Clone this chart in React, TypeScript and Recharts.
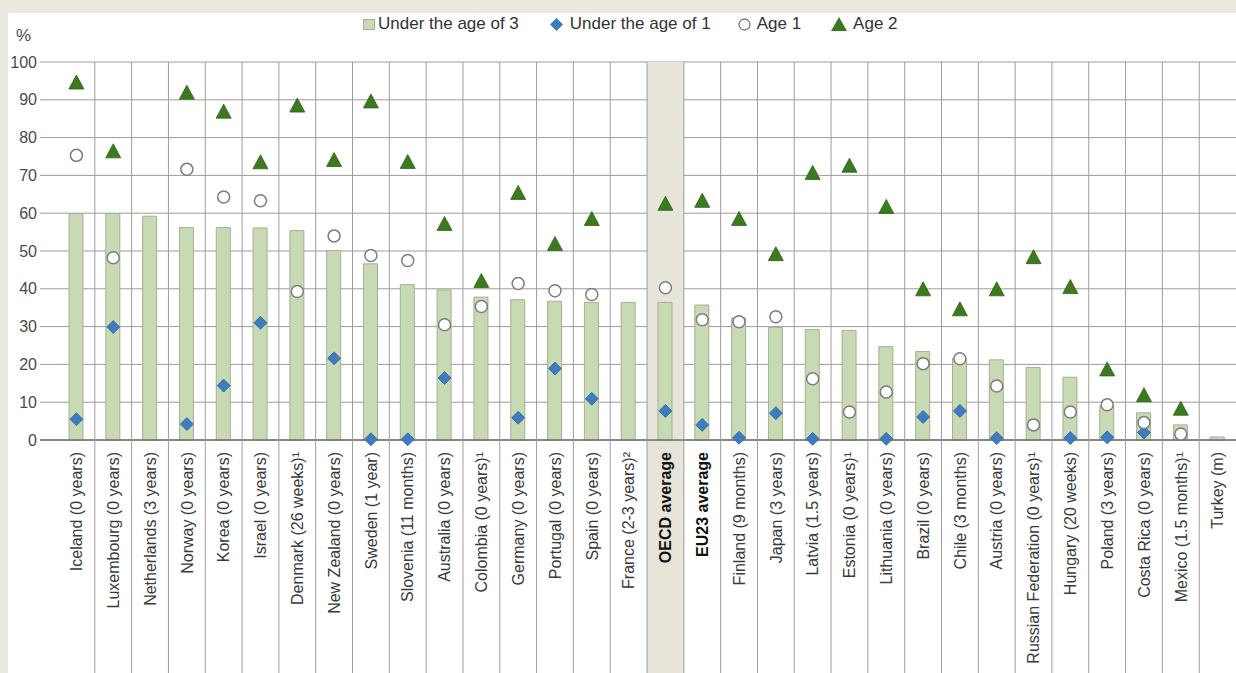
import React from "react";
import { Bar, CartesianGrid, ComposedChart, ReferenceArea, Scatter, XAxis, YAxis } from "recharts";

const categories = [
  "Iceland (0 years)",
  "Luxembourg (0 years)",
  "Netherlands (3 years)",
  "Norway (0 years)",
  "Korea (0 years)",
  "Israel (0 years)",
  "Denmark (26 weeks)¹",
  "New Zealand (0 years)",
  "Sweden (1 year)",
  "Slovenia (11 months)",
  "Australia (0 years)",
  "Colombia (0 years)¹",
  "Germany (0 years)",
  "Portugal (0 years)",
  "Spain (0 years)",
  "France (2-3 years)²",
  "OECD average",
  "EU23 average",
  "Finland (9 months)",
  "Japan (3 years)",
  "Latvia (1.5  years)",
  "Estonia (0 years)¹",
  "Lithuania (0 years)",
  "Brazil (0 years)",
  "Chile (3 months)",
  "Austria (0 years)",
  "Russian Federation (0 years)¹",
  "Hungary (20 weeks)",
  "Poland (3 years)",
  "Costa Rica (0 years)",
  "Mexico (1.5 months)¹",
  "Turkey (m)",
];

// % of children enrolled in ECEC
const under3 = [59.9, 59.9, 59.2, 56.2, 56.2, 56.1, 55.4, 50.1, 46.6, 41.1, 39.7, 37.8, 37.1, 36.7, 36.4, 36.4,
  36.4, 35.7, 32.3, 29.8, 29.2, 29.0, 24.7, 23.4, 21.6, 21.2, 19.2, 16.6, 9.0, 7.2, 4.0, 0.8];
const under1 = [5.5, 29.9, null, 4.2, 14.4, 31.0, null, 21.6, 0.2, 0.2, 16.4, null, 5.9, 18.9, 10.9, null,
  7.7, 4.0, 0.6, 7.1, 0.3, null, 0.3, 6.1, 7.7, 0.5, null, 0.5, 0.7, 2.0, null, null];
const age1 = [75.3, 48.2, null, 71.6, 64.3, 63.3, 39.3, 54.0, 48.8, 47.5, 30.5, 35.3, 41.4, 39.5, 38.5, null,
  40.3, 31.8, 31.3, 32.6, 16.2, 7.4, 12.7, 20.2, 21.5, 14.3, 4.0, 7.4, 9.3, 4.6, 1.6, null];
const age2 = [94.7, 76.5, null, 92.0, 87.0, 73.6, 88.6, 74.2, 89.7, 73.7, 57.3, 42.2, 65.5, 52.0, 58.6, null,
  62.6, 63.4, 58.6, 49.3, 70.8, 72.7, 61.8, 40.0, 34.7, 40.0, 48.5, 40.6, 18.8, 12.0, 8.4, null];

const yTicks = [0, 10, 20, 30, 40, 50, 60, 70, 80, 90, 100];
const boldCats = ["OECD average", "EU23 average"];
const highlightCat = "OECD average";

const data = categories.map((name, i) => ({
  name,
  under3: under3[i],
  under1: under1[i],
  age1: age1[i],
  age2: age2[i],
}));

const W = 1236;
const H = 673;
const PLOT_TOP = 62;
const PLOT_LEFT = 40;
const AXIS_H = 233;
const PAD_LEFT = 18;
const STEP = (W - PLOT_LEFT - PAD_LEFT) / categories.length;

const FONT = '"Liberation Sans", Arial, sans-serif';
const FRAME = "#ebe9df";
const HIGHLIGHT = "#e7e4d9";
const GRID = "#9c9c9c";
const BAR_FILL = "#c8dab4";
const BAR_EDGE = "#a1b193";
const BLUE = "#3f7cbf";
const GREEN = "#3b7a1f";

const hidden = (p: any, key: string) => p?.payload?.[key] == null || !Number.isFinite(p.cx) || !Number.isFinite(p.cy);

const DiamondShape = (p: any) =>
  hidden(p, "under1") ? <g /> : (
    <polygon
      points={`${p.cx},${p.cy - 6.5} ${p.cx + 6.5},${p.cy} ${p.cx},${p.cy + 6.5} ${p.cx - 6.5},${p.cy}`}
      fill={BLUE}
      stroke="#2f64a3"
      strokeWidth={0.8}
    />
  );

const CircleShape = (p: any) =>
  hidden(p, "age1") ? <g /> : <circle cx={p.cx} cy={p.cy} r={6} fill="#fff" stroke="#7c7c7c" strokeWidth={1.5} />;

const TriangleShape = (p: any) =>
  hidden(p, "age2") ? <g /> : (
    <polygon
      points={`${p.cx},${p.cy - 7} ${p.cx + 7.5},${p.cy + 7} ${p.cx - 7.5},${p.cy + 7}`}
      fill={GREEN}
      stroke="#2e6214"
      strokeWidth={0.8}
    />
  );

function CategoryTick({ x, y, payload, index }: any) {
  const name = String(payload.value);
  const bold = boldCats.includes(name);
  const left = x - STEP / 2;
  return (
    <g>
      {name === highlightCat && <rect x={left} y={H - AXIS_H + 1} width={STEP} height={AXIS_H} fill={HIGHLIGHT} />}
      {index > 0 && <line x1={left} x2={left} y1={PLOT_TOP} y2={H} stroke={GRID} strokeWidth={1} />}
      <text
        transform={`translate(${x},${y}) rotate(-90)`}
        textAnchor="end"
        dy="0.36em"
        fontSize={16}
        fontFamily={FONT}
        fontWeight={bold ? 700 : 400}
        fill={bold ? "#111" : "#3a3a3a"}
      >
        {name}
      </text>
    </g>
  );
}

const legendItems = [
  { label: "Under the age of 3", gap: 3, after: 31, w: 12, h: 11, kind: "bar" },
  { label: "Under the age of 1", gap: 7, after: 27, w: 13, h: 13, kind: "diamond" },
  { label: "Age 1", gap: 6, after: 30, w: 13, h: 13, kind: "circle" },
  { label: "Age 2", gap: 6, after: 0, w: 16, h: 14, kind: "triangle" },
];

function LegendMarker({ kind, w, h }: { kind: string; w: number; h: number }) {
  return (
    <svg width={w} height={h} style={{ display: "block" }}>
      {kind === "bar" && <rect x={0.5} y={0.5} width={w - 1} height={h - 1} fill={BAR_FILL} stroke={BAR_EDGE} />}
      {kind === "diamond" && <polygon points={`${w / 2},0 ${w},${h / 2} ${w / 2},${h} 0,${h / 2}`} fill={BLUE} />}
      {kind === "circle" && <circle cx={w / 2} cy={h / 2} r={w / 2 - 1} fill="#fff" stroke="#7c7c7c" strokeWidth={1.3} />}
      {kind === "triangle" && <polygon points={`${w / 2},0 ${w},${h} 0,${h}`} fill={GREEN} />}
    </svg>
  );
}

function ChartLegend() {
  return (
    <div
      style={{
        position: "absolute",
        left: 363,
        top: 14,
        display: "flex",
        alignItems: "center",
        fontFamily: FONT,
        fontSize: 17,
        lineHeight: "20px",
        color: "#333",
        whiteSpace: "nowrap",
      }}
    >
      {legendItems.map((it) => (
        <div key={it.label} style={{ display: "flex", alignItems: "center", marginRight: it.after }}>
          <div style={{ marginRight: it.gap }}>
            <LegendMarker kind={it.kind} w={it.w} h={it.h} />
          </div>
          <span>{it.label}</span>
        </div>
      ))}
    </div>
  );
}

export default function App() {
  return (
    <div style={{ position: "absolute", left: 0, top: 0, width: W, height: H, background: FRAME, overflow: "hidden" }}>
      <div style={{ position: "absolute", left: 8, top: 13, width: W - 8, height: H - 13, background: "#fff" }} />
      <div style={{ position: "absolute", left: 0, top: 0 }}>
        <ComposedChart width={W} height={H} data={data} margin={{ top: PLOT_TOP, right: 0, bottom: 0, left: 0 }}>
          <CartesianGrid vertical={false} stroke={GRID} strokeWidth={1} />
          <ReferenceArea x1={highlightCat} x2={highlightCat} fill={HIGHLIGHT} fillOpacity={1} stroke="none" ifOverflow="visible" />
          <XAxis
            dataKey="name"
            interval={0}
            height={AXIS_H}
            padding={{ left: PAD_LEFT, right: 0 }}
            tickLine={false}
            tickSize={0}
            tickMargin={12}
            axisLine={{ stroke: "#6f6f6f", strokeWidth: 1.5 }}
            tick={<CategoryTick />}
          />
          <YAxis
            domain={[0, 100]}
            ticks={yTicks}
            width={PLOT_LEFT}
            tickLine={false}
            axisLine={false}
            tickSize={0}
            tickMargin={3}
            tick={{ fontSize: 16, fill: "#4a4a4a", fontFamily: FONT }}
            label={() => (
              <text x={16} y={41} fontSize={17} fill="#4a4a4a" fontFamily={FONT}>
                %
              </text>
            )}
          />
          <Bar dataKey="under3" barSize={14} fill={BAR_FILL} stroke={BAR_EDGE} strokeWidth={1} isAnimationActive={false} />
          <Scatter dataKey="under1" shape={DiamondShape} isAnimationActive={false} />
          <Scatter dataKey="age1" shape={CircleShape} isAnimationActive={false} />
          <Scatter dataKey="age2" shape={TriangleShape} isAnimationActive={false} />
        </ComposedChart>
      </div>
      <ChartLegend />
    </div>
  );
}
